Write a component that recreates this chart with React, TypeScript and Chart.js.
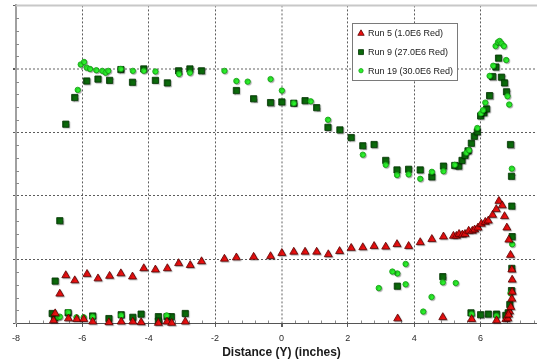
import React, { useEffect, useRef } from 'react';
import { Chart, registerables } from 'chart.js';
import { drawPoint } from 'chart.js/helpers';

Chart.register(...registerables);

// ---- Axis ranges (no y labels are shown in the reference) ----
const X_MIN = -8;
const X_MAX = 8;
const X_STEP = 2;
const Y_MIN = 0;
const Y_MAX = 5;
const Y_STEP = 1;

const X_TITLE = 'Distance (Y) (inches)';
const SERIES_LABELS = ['Run 5 (1.0E6 Red)', 'Run 9 (27.0E6 Red)', 'Run 19 (30.0E6 Red)'];

// ---- Run 5 (1.0E6 Red) ----
const run5X = [
  -6.87, -6.82, -6.68, -6.5, -6.42, -6.23, -6.17, -5.96, -5.86, -5.69, -5.53, -5.2, -5.18,
  -4.83, -4.84, -4.48, -4.49, -4.23, -4.15, -3.8, -3.71, -3.45, -3.44, -3.31, -3.1, -2.9,
  -2.75, -2.41, -1.72, -1.36, -0.84, -0.33, 0.01, 0.37, 0.71, 1.06, 1.41, 1.75, 2.1, 2.45,
  2.79, 3.14, 3.48, 3.5, 3.83, 4.18, 4.53, 4.86, 4.88, 5.18, 5.27, 5.35, 5.45, 5.53, 5.64,
  5.73, 5.75, 5.82, 5.92, 6.02, 6.14, 6.23, 6.36, 6.47, 6.48, 6.55, 6.65, 6.72, 6.76, 6.79,
  6.82, 6.85, 6.87, 6.9, 6.91, 6.94, 6.95, 6.95, 6.94, 6.84,
];
const run5Y = [
  0.04, 0.15, 0.46, 0.75, 0.07, 0.67, 0.06, 0.06, 0.77, 0.02, 0.7, 0.01, 0.74,
  0.02, 0.78, 0.02, 0.73, 0.01, 0.86, 0.84, 0.0, 0.02, 0.86, 0.0, 0.94, 0.02,
  0.91, 0.97, 1.01, 1.03, 1.04, 1.05, 1.1, 1.12, 1.12, 1.12, 1.08, 1.13, 1.18, 1.19,
  1.21, 1.2, 1.24, 0.07, 1.21, 1.27, 1.32, 0.09, 1.36, 1.37, 1.37, 1.4, 1.39, 1.4, 1.45,
  0.06, 1.45, 1.47, 1.5, 1.56, 1.59, 1.61, 1.7, 1.79, 0.04, 1.92, 1.85, 1.68, 0.06, 1.5,
  0.07, 1.31, 0.18, 1.07, 0.25, 0.38, 0.49, 0.68, 0.84, 0.13,
];

// ---- Run 9 (27.0E6 Red) ----
const run9X = [
  -6.5, -6.23, -5.87, -5.53, -5.18, -4.84, -4.49, -4.15, -3.8, -3.44, -3.1, -2.76, -2.41,
  -1.36, -0.84, -0.33, 0.01, 0.37, 0.71, 1.06, 1.4, 1.76, 2.1, 2.45, 2.79, 3.14, 3.48,
  3.83, 4.18, 4.53, 4.88, 5.22, 5.34, 5.44, 5.53, 5.62, 5.72, 5.81, 5.9, 6.0, 6.1, 6.18,
  6.27, 6.36, 6.46, 6.54, 6.63, 6.72, 6.78, 6.9, 6.93, 6.94, 6.95, 6.94, 6.93, 6.88, 6.83,
  6.76, 6.48, 6.23, 6.0, 5.71, 4.86, 3.49, -2.9, -6.68, -6.82, -6.91, -6.84, -6.43, -5.69,
  -5.2, -4.83, -4.48, -4.23, -3.71, -3.71, -3.45, -3.32,
];
const run9Y = [
  3.13, 3.55, 3.81, 3.84, 3.82, 3.99, 3.79, 4.0, 3.82, 3.78, 3.97, 4.0, 3.97,
  3.66, 3.53, 3.47, 3.48, 3.46, 3.5, 3.39, 3.08, 3.04, 2.92, 2.79, 2.81, 2.56, 2.41,
  2.42, 2.41, 2.3, 2.47, 2.48, 2.47, 2.56, 2.64, 2.71, 2.83, 2.94, 3.01, 3.26, 3.31, 3.37,
  3.58, 3.88, 4.03, 4.17, 3.87, 3.78, 3.64, 2.81, 2.31, 1.84, 1.36, 0.86, 0.51, 0.29, 0.16,
  0.12, 0.14, 0.14, 0.13, 0.16, 0.73, 0.58, 0.15, 1.61, 0.66, 0.15, 0.08, 0.16, 0.11,
  0.07, 0.13, 0.09, 0.14, 0.1, 0.03, 0.1, 0.1,
];

// ---- Run 19 (30.0E6 Red) ----
const run19X = [
  -6.14, -6.05, -5.95, -5.87, -5.77, -5.58, -5.4, -5.3, -5.22, -4.84, -4.48, -4.15, -3.8,
  -3.09, -2.76, -1.72, -1.36, -1.02, -0.33, 0.01, 0.37, 0.88, 1.4, 2.45, 3.14, 3.48, 3.83,
  4.18, 4.53, 4.88, 5.22, 5.57, 5.65, 5.9, 6.01, 6.07, 6.14, 6.27, 6.38, 6.45, 6.52, 6.57,
  6.63, 6.7, 6.77, 6.81, 6.86, 6.94, 6.95, 6.9, 6.48, 5.73, 5.25, 4.86, 4.52, 4.27, 3.74,
  3.74, 3.49, 3.34, 2.93, -6.72, -6.68, -6.43, -6.18, -5.96, -5.69, -4.83, -3.46,
];
const run19Y = [
  3.67, 4.07, 4.11, 4.02, 4.0, 3.98, 3.97, 3.94, 3.97, 4.0, 3.97, 3.97, 3.96,
  3.92, 3.94, 3.97, 3.81, 3.8, 3.84, 3.66, 3.46, 3.49, 3.2, 2.65, 2.49, 2.33, 2.34,
  2.27, 2.38, 2.39, 2.49, 2.68, 2.72, 3.07, 3.3, 3.35, 3.47, 3.89, 4.05, 4.36, 4.42, 4.44,
  4.4, 4.36, 4.14, 3.57, 3.44, 2.43, 1.24, 0.47, 0.11, 0.14, 0.63, 0.64, 0.41, 0.18, 0.93,
  0.61, 0.78, 0.81, 0.55, 0.09, 0.1, 0.17, 0.09, 0.09, 0.1, 0.12, 0.12,
];

const toPoints = (xs: number[], ys: number[]) => xs.map((x, i) => ({ x, y: ys[i] }));

const FONT = 'Arial, "Liberation Sans", sans-serif';

const framePlugin = {
  id: 'frameAndLegend',
  beforeDatasetsDraw(chart: any) {
    const { ctx, chartArea: a, scales } = chart;
    const xs = scales.x;
    const ys = scales.y;
    ctx.save();
    // top frame line
    ctx.strokeStyle = '#c8c8c8';
    ctx.lineWidth = 2;
    ctx.beginPath();
    ctx.moveTo(a.left, a.top);
    ctx.lineTo(a.right, a.top);
    ctx.stroke();
    // minor ticks
    ctx.strokeStyle = '#8a8a8a';
    ctx.lineWidth = 1;
    ctx.beginPath();
    const nx = Math.round((X_MAX - X_MIN) / (X_STEP / 5));
    for (let i = 1; i < nx; i++) {
      if (i % 5 === 0) continue;
      const v = X_MIN + (i * X_STEP) / 5;
      const px = Math.round(xs.getPixelForValue(v)) + 0.5;
      ctx.moveTo(px, a.bottom);
      ctx.lineTo(px, a.bottom - 2.5);
    }
    const ny = Math.round((Y_MAX - Y_MIN) / (Y_STEP / 5));
    for (let i = 1; i < ny; i++) {
      if (i % 5 === 0) continue;
      const v = Y_MIN + (i * Y_STEP) / 5;
      const py = Math.round(ys.getPixelForValue(v)) + 0.5;
      ctx.moveTo(a.left, py);
      ctx.lineTo(a.left + 3, py);
    }
    ctx.stroke();
    ctx.restore();
    // marker shadow
    ctx.save();
    ctx.shadowColor = 'rgba(0,0,0,0.28)';
    ctx.shadowOffsetX = 1;
    ctx.shadowOffsetY = 1;
    ctx.shadowBlur = 1;
  },
  afterDatasetsDraw(chart: any) {
    chart.ctx.restore();
  },
  afterDraw(chart: any) {
    const { ctx, chartArea: a } = chart;
    const bx = a.left + 336.5;
    const by = 23.5;
    const bw = 105;
    const bh = 57;
    ctx.save();
    ctx.fillStyle = '#ffffff';
    ctx.fillRect(bx, by, bw, bh);
    ctx.strokeStyle = '#7a7a7a';
    ctx.lineWidth = 1;
    ctx.strokeRect(bx, by, bw, bh);
    ctx.font = '9px ' + FONT;
    ctx.textBaseline = 'middle';
    ctx.textAlign = 'left';
    chart.data.datasets.forEach((ds: any, i: number) => {
      const cy = by + 10 + i * 18.6;
      ctx.fillStyle = ds.backgroundColor;
      ctx.strokeStyle = ds.borderColor;
      ctx.lineWidth = ds.borderWidth;
      drawPoint(ctx, { pointStyle: ds.pointStyle, radius: ds.pointRadius * 0.8, rotation: 0, borderWidth: ds.borderWidth } as any, bx + 8.5, cy);
      ctx.fillStyle = '#1a1a1a';
      ctx.fillText(ds.label, bx + 15.5, cy + 0.5);
    });
    ctx.restore();
  },
};

export default function App() {
  const canvasRef = useRef<HTMLCanvasElement | null>(null);

  useEffect(() => {
    const canvas = canvasRef.current;
    if (!canvas) return;
    Chart.defaults.font.family = FONT;
    const chart = new Chart(canvas, {
      type: 'scatter',
      data: {
        datasets: [
          {
            label: SERIES_LABELS[0],
            data: toPoints(run5X, run5Y),
            pointStyle: 'triangle',
            pointRadius: 4.6,
            backgroundColor: '#ee1010',
            borderColor: '#5a0000',
            borderWidth: 0.8,
            order: 0,
            clip: false,
          },
          {
            label: SERIES_LABELS[1],
            data: toPoints(run9X, run9Y),
            pointStyle: 'rect',
            pointRadius: 4.4,
            backgroundColor: '#0b6a0b',
            borderColor: '#023302',
            borderWidth: 0.8,
            order: 2,
            clip: false,
          },
          {
            label: SERIES_LABELS[2],
            data: toPoints(run19X, run19Y),
            pointStyle: 'circle',
            pointRadius: 2.7,
            backgroundColor: '#2cf22c',
            borderColor: '#129a12',
            borderWidth: 0.8,
            order: 1,
            clip: false,
          },
        ],
      },
      options: {
        animation: false,
        responsive: false,
        devicePixelRatio: 1,
        layout: { padding: { left: 0, top: 5, right: 13, bottom: 0 } },
        plugins: {
          legend: { display: false },
          tooltip: { enabled: false },
        },
        scales: {
          x: {
            type: 'linear',
            min: X_MIN,
            max: X_MAX,
            ticks: {
              stepSize: X_STEP,
              color: '#2a2a2a',
              font: { size: 9 },
              padding: 6,
              maxRotation: 0,
            },
            grid: {
              color: (c: any) => (c.tick && c.tick.value === 0 ? '#b0b0b0' : c.tick && c.tick.value === X_MIN ? 'rgba(0,0,0,0)' : '#5c5c5c'),
              lineWidth: (c: any) => (c.tick && c.tick.value === 0 ? 2 : 1),
              drawTicks: true,
              tickLength: 4,
              tickColor: '#5c5c5c',
            },
            border: { display: true, color: '#555555', width: 1, dash: [2, 2] },
            title: {
              display: true,
              text: X_TITLE,
              color: '#1a1a1a',
              font: { size: 12, weight: 'bold' },
              padding: { top: 0, bottom: 0 },
            },
            afterFit: (s: any) => {
              s.height = 37;
            },
          },
          y: {
            type: 'linear',
            min: Y_MIN,
            max: Y_MAX,
            ticks: { stepSize: Y_STEP, display: false },
            grid: {
              color: (c: any) =>
                c.tick && (c.tick.value === Y_MIN || c.tick.value === Y_MAX)
                  ? 'rgba(0,0,0,0)'
                  : c.tick && c.tick.value === 4
                  ? '#b0b0b0'
                  : '#5c5c5c',
              lineWidth: (c: any) => (c.tick && c.tick.value === 4 ? 2 : 1),
              drawTicks: true,
              tickLength: 3,
              tickColor: '#5c5c5c',
            },
            border: { display: true, color: '#a0a0a0', width: 2, dash: [2, 2] },
            afterFit: (s: any) => {
              s.width = 16;
            },
          },
        },
      },
      plugins: [framePlugin],
    } as any);
    return () => chart.destroy();
  }, []);

  return (
    <div
      style={{
        position: 'fixed',
        left: 0,
        top: 0,
        width: 537,
        height: 360,
        overflow: 'hidden',
        background: '#ffffff',
      }}
    >
      <canvas ref={canvasRef} width={560} height={360} style={{ display: 'block', width: 560, height: 360 }} />
    </div>
  );
}
